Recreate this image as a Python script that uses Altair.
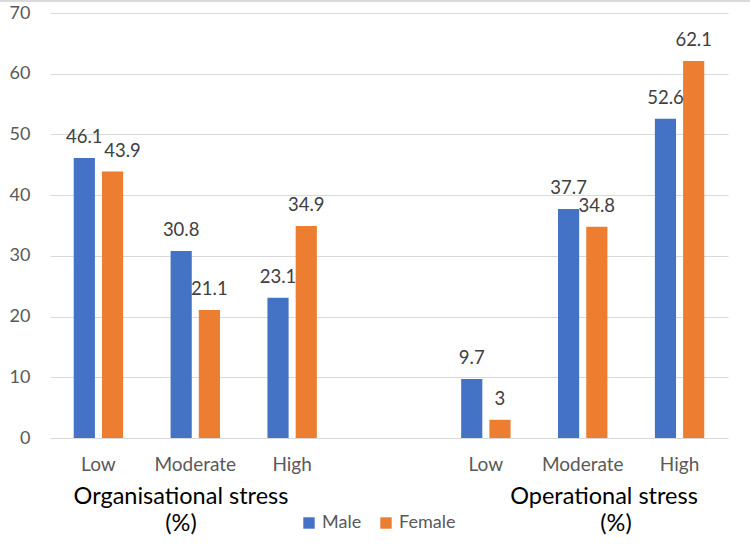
import altair as alt
import pandas as pd

# Stress levels by sex, for the two stress domains
slots = ["org_Low", "org_Moderate", "org_High", "gap", "op_Low", "op_Moderate", "op_High"]
keys = ["org_Low", "org_Moderate", "org_High", "op_Low", "op_Moderate", "op_High"]
male = [46.1, 30.8, 23.1, 9.7, 37.7, 52.6]
female = [43.9, 21.1, 34.9, 3, 34.8, 62.1]
sexes = ["Male", "Female"]
colors = ["#4472C4", "#ED7D31"]

rows = []
for k, m, f in zip(keys, male, female):
    rows.append({"slot": k, "sex": "Male", "value": m})
    rows.append({"slot": k, "sex": "Female", "value": f})
df = pd.DataFrame(rows)

FONT = "Lato"
W, H = 678, 425

x_enc = alt.X(
    "slot:N",
    scale=alt.Scale(domain=slots, paddingInner=0.49, paddingOuter=0.245),
    axis=alt.Axis(
        title=None,
        labelExpr="indexof(datum.value, '_') >= 0 ? split(datum.value, '_')[1] : ''",
        labelAngle=0,
        ticks=False,
        domainColor="#d9d9d9",
        labelColor="#595959",
        labelFontSize=19,
        labelFont=FONT,
        labelPadding=17,
    ),
)
xoff = alt.XOffset("sex:N", scale=alt.Scale(domain=sexes, paddingInner=0.25))

bars = alt.Chart(df).mark_bar().encode(
    x=x_enc,
    xOffset=xoff,
    y=alt.Y(
        "value:Q",
        scale=alt.Scale(domain=[0, 70]),
        axis=alt.Axis(
            title=None,
            values=[0, 10, 20, 30, 40, 50, 60, 70],
            domain=False,
            ticks=False,
            gridColor="#d9d9d9",
            labelColor="#595959",
            labelFontSize=18,
            labelFont=FONT,
            labelPadding=20,
        ),
    ),
    color=alt.Color(
        "sex:N",
        scale=alt.Scale(domain=sexes, range=colors),
        legend=alt.Legend(
            title=None,
            orient="none",
            direction="horizontal",
            legendX=250,
            legendY=501,
            symbolType="square",
            symbolSize=130,
            symbolStrokeWidth=0,
            labelFontSize=18,
            labelFont=FONT,
            labelColor="#595959",
            columnPadding=15,
            labelOffset=4,
        ),
    ),
)

# value labels above each bar; the Female "Low" organisational label sits
# nudged right so it clears its neighbour
nudged = "datum.slot == 'org_Low' && datum.sex == 'Female'"
text_style = dict(baseline="alphabetic", fontSize=18.5, font=FONT, color="#404040")

labels = alt.Chart(df).transform_filter("!(" + nudged + ")").mark_text(
    dy=-15, **text_style
).encode(x=x_enc, xOffset=xoff, y="value:Q", text=alt.Text("value:Q"))

labels_nudged = alt.Chart(df).transform_filter(nudged).mark_text(
    dy=-14, dx=10, **text_style
).encode(x=x_enc, xOffset=xoff, y="value:Q", text=alt.Text("value:Q"))

# domain titles under the category labels
titles = pd.DataFrame({
    "line": ["Organisational stress", "(%)", "Operational stress", "(%)"],
    "px": [131, 131, 554, 566],
    "py": [59, 86, 59, 86],
})
title_marks = alt.Chart(titles).transform_calculate(
    py="datum.py + %d" % H
).mark_text(
    fontSize=23.5, font=FONT, color="#000000", baseline="middle"
).encode(
    x=alt.X("px:Q", scale=None),
    y=alt.Y("py:Q", scale=None),
    text="line:N",
)

top_rule = alt.Chart(df).mark_rule(color="#d9d9d9", strokeWidth=1.5).encode(
    x=alt.value(-50), x2=alt.value(W + 22), y=alt.value(-12.5)
)

chart = (
    alt.layer(bars, labels, labels_nudged, title_marks, top_rule)
    .properties(
        width=W,
        height=H,
        autosize=alt.AutoSizeParams(type="none"),
        padding={"left": 50, "top": 13, "right": 22, "bottom": 116},
        background="white",
    )
    .configure_view(stroke=None)
)

chart.save("out.html", embed_options={"renderer": "svg", "actions": False})
